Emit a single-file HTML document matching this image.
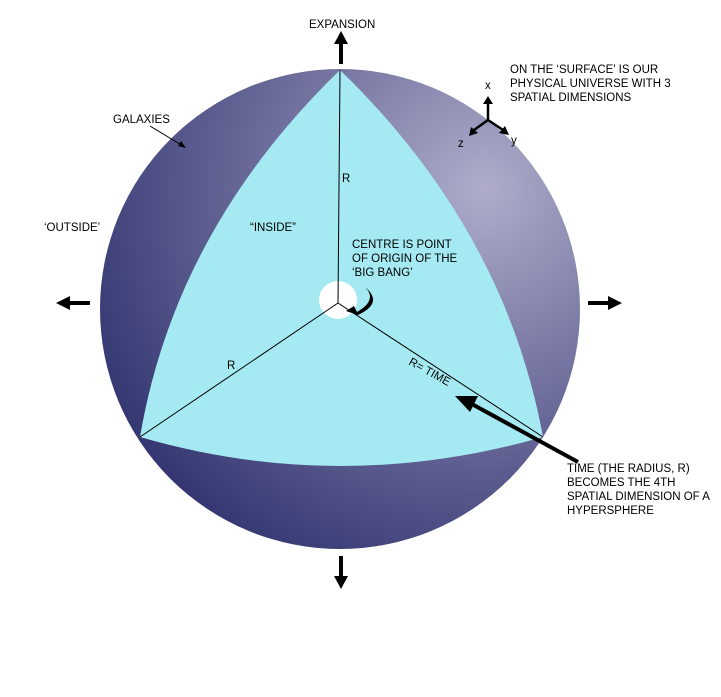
<!DOCTYPE html>
<html><head><style>
body{margin:0;background:#fff;width:721px;height:692px;overflow:hidden}
text{font-family:"Liberation Sans",sans-serif;font-size:11.5px;fill:#000}
</style></head><body>
<svg width="721" height="692" viewBox="0 0 721 692">
<defs>
<radialGradient id="g" cx="0.8" cy="0.25" r="0.95">
<stop offset="0" stop-color="#aeadca"/>
<stop offset="0.4" stop-color="#7877a3"/>
<stop offset="1" stop-color="#2c2f6c"/>
</radialGradient>
</defs>
<circle cx="340" cy="309" r="240" fill="url(#g)"/>
<path d="M340,70 Q175,230 140,437 Q340,495 543,437 Q505,230 340,70Z" fill="#a5eaf2"/>
<circle cx="338" cy="300" r="19" fill="#fff"/>
<g stroke="#000" stroke-width="1">
<line x1="340" y1="70" x2="338" y2="303"/>
<line x1="338" y1="303" x2="140" y2="437"/>
<line x1="338" y1="303" x2="543" y2="437"/>
</g>
<path d="M365,287 Q378,300 357,312 L354,306 L346,311 L358,315 Q384,303 365,287Z" fill="#000"/>
<g fill="#000" stroke="#000">
<line x1="341" y1="64" x2="341" y2="42" stroke-width="4"/><polygon points="334,44 348,44 341,31" stroke="none"/>
<line x1="341" y1="556" x2="341" y2="578" stroke-width="4"/><polygon points="334,576 348,576 341,589" stroke="none"/>
<line x1="90" y1="303" x2="68" y2="303" stroke-width="4"/><polygon points="70,296 70,310 56,303" stroke="none"/>
<line x1="588" y1="303" x2="610" y2="303" stroke-width="4"/><polygon points="608,296 608,310 622,303" stroke="none"/>
<line x1="578" y1="462" x2="470" y2="403" stroke-width="4"/><polygon points="455,396 478,396 470,412" stroke="none"/>
<line x1="488" y1="120" x2="488" y2="103" stroke-width="2.5"/><polygon points="483,104 493,104 488,96" stroke="none"/>
<line x1="488" y1="120" x2="474" y2="130" stroke-width="2.5"/><polygon points="469,136 471,127 478,133" stroke="none"/>
<line x1="488" y1="120" x2="503" y2="130" stroke-width="2.5"/><polygon points="509,135 499,133 505,126" stroke="none"/>
<line x1="150" y1="126" x2="183" y2="146" stroke-width="1"/><polygon points="186,148 178,146 181,141" stroke="none"/>
</g>
<text x="309" y="28">EXPANSION</text>
<text x="510" y="73">ON THE ‘SURFACE’ IS OUR</text>
<text x="510" y="87">PHYSICAL UNIVERSE WITH 3</text>
<text x="510" y="101">SPATIAL DIMENSIONS</text>
<text x="485" y="89">x</text>
<text x="458" y="147">z</text>
<text x="511" y="144">y</text>
<text x="113" y="123">GALAXIES</text>
<text x="44" y="231">‘OUTSIDE’</text>
<text x="250" y="231">“INSIDE”</text>
<text x="342" y="182">R</text>
<text x="227" y="369">R</text>
<text x="352" y="248">CENTRE IS POINT</text>
<text x="352" y="262">OF ORIGIN OF THE</text>
<text x="352" y="276">‘BIG BANG’</text>
<text x="0" y="0" transform="translate(408,364) rotate(29)">R= TIME</text>
<text x="567" y="472">TIME (THE RADIUS, R)</text>
<text x="567" y="486">BECOMES THE 4TH</text>
<text x="567" y="500">SPATIAL DIMENSION OF A</text>
<text x="567" y="514">HYPERSPHERE</text>
</svg>
</body></html>
